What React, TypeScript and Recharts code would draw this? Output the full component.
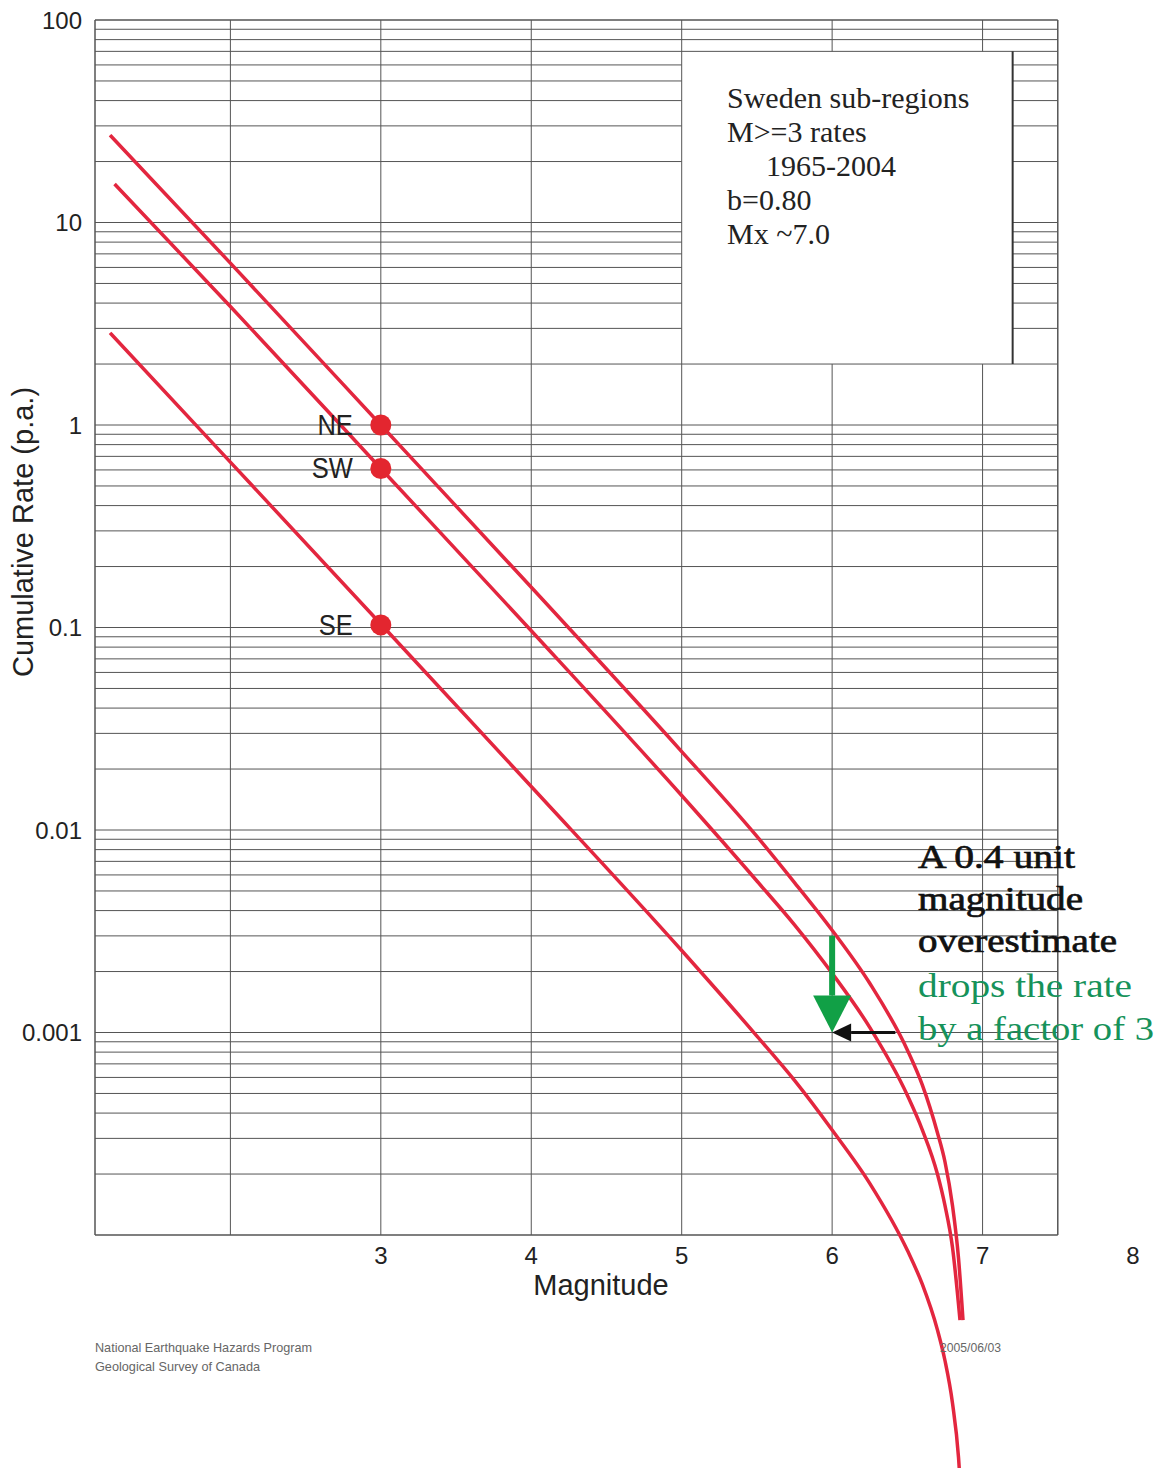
import React from 'react';
import { ComposedChart, Line, Scatter, XAxis, YAxis, ReferenceLine } from 'recharts';

// cumulative rate curves (magnitude, events per year)
const neMag = [1.2, 2, 3, 4, 5, 5.5, 5.75, 6, 6.25, 6.5, 6.6, 6.7, 6.75, 6.8, 6.84, 6.87];
const neRate = [27, 6.3, 1.0, 0.158, 0.0244, 0.0093, 0.0055, 0.0032, 0.00175, 0.00082, 0.00055, 0.00032, 0.00023, 0.00014, 0.000077, 0.000038];

const swMag = [1.23, 2, 3, 4, 5, 5.5, 5.75, 6, 6.25, 6.5, 6.6, 6.7, 6.75, 6.8, 6.85];
const swRate = [15.5, 3.85, 0.61, 0.0964, 0.0148, 0.0056, 0.0034, 0.00196, 0.00106, 0.00049, 0.00033, 0.0002, 0.00014, 0.000087, 0.000038];

const seMag = [1.2, 2, 3, 4, 5, 5.5, 5.75, 6, 6.25, 6.5, 6.6, 6.7, 6.75, 6.8, 6.84, 6.87];
const seRate = [2.85, 0.656, 0.104, 0.0164, 0.00254, 0.00096, 0.00058, 0.00033, 0.00018, 0.000084, 0.000057, 0.000034, 0.000024, 0.0000148, 0.000008, 0.0000033];

// M>=3 rate markers
const dotMag = [3, 3, 3];
const dotRate = [1.0, 0.61, 0.103];
const dotLabel = ['NE', 'SW', 'SE'];

// axes
const magTicks = [3, 4, 5, 6, 7, 8];
const rateTicks = [0.001, 0.01, 0.1, 1, 10, 100];
const magGrid = [2, 3, 4, 5, 6, 7];
const gridMantissas = [1, 2, 3, 4, 5, 6, 7, 8, 9];
const gridDecades = [-4, -3, -2, -1, 0, 1];
const frameMag = [1.1, 7.5];
const frameRate = [0.0001, 100];

// text box in the upper right
const boxMag = [5, 7.2];
const boxRate = [2, 70];
const boxLines = ['Sweden sub-regions', 'M>=3 rates', '1965-2004', 'b=0.80', 'Mx ~7.0'];

// annotation
const noteLines = ['A 0.4 unit', 'magnitude', 'overestimate', 'drops the rate', 'by a factor of 3'];
const greenArrow = [{ x: 6, y: 0.003 }, { x: 6, y: 0.001 }];
const blackArrow = [{ x: 6.42, y: 0.001 }, { x: 6, y: 0.001 }];

const RED = '#e3263f';
const GRID = '#555';
const GREEN = '#11a046';
const TEXT_GREEN = '#16925a';

const css = `
html, body { overflow: hidden; }
.recharts-line, .recharts-line * { clip-path: none !important; }
.recharts-surface { overflow: visible; }
`;

const arrowShape = (color: string, width: number, headW: number, headL: number) => (p: any) => {
  const { x1, y1, x2, y2 } = p;
  const dx = x2 - x1;
  const dy = y2 - y1;
  const len = Math.hypot(dx, dy) || 1;
  const ux = dx / len;
  const uy = dy / len;
  const bx = x2 - ux * headL;
  const by = y2 - uy * headL;
  const px = -uy * headW / 2;
  const py = ux * headW / 2;
  return (
    <g>
      <line x1={x1} y1={y1} x2={bx} y2={by} stroke={color} strokeWidth={width} />
      <polygon points={`${x2},${y2} ${bx + px},${by + py} ${bx - px},${by - py}`} fill={color} />
    </g>
  );
};

const renderDot = (p: any) => {
  const { cx, cy, payload } = p;
  return (
    <g>
      <circle cx={cx} cy={cy} r={10.5} fill="#e3262f" />
      <text
        transform={`translate(${cx - 28},${cy + 10}) scale(0.85,1)`}
        textAnchor="end"
        fontSize={30}
        fontFamily='"Liberation Sans", Arial, sans-serif'
        fill="#222"
      >
        {payload.label}
      </text>
    </g>
  );
};

export default function App() {
  const ne = neMag.map((m, i) => ({ m, rate: neRate[i] }));
  const sw = swMag.map((m, i) => ({ m, rate: swRate[i] }));
  const se = seMag.map((m, i) => ({ m, rate: seRate[i] }));
  const dots = dotMag.map((m, i) => ({ m, rate: dotRate[i], label: dotLabel[i] }));

  const gridRates = gridDecades
    .flatMap((e) => gridMantissas.map((k) => Number((k * Math.pow(10, e)).toPrecision(4))))
    .filter((v) => v > frameRate[0]);

  const hSegs: { v: number; a: number; b: number }[] = [];
  gridRates.forEach((v) => {
    if (v > boxRate[0] && v < boxRate[1]) {
      hSegs.push({ v, a: frameMag[0], b: boxMag[0] });
      hSegs.push({ v, a: boxMag[1], b: frameMag[1] });
    } else {
      hSegs.push({ v, a: frameMag[0], b: frameMag[1] });
    }
  });

  const vSegs: { m: number; a: number; b: number }[] = [];
  magGrid.forEach((m) => {
    if (m > boxMag[0] && m < boxMag[1]) {
      vSegs.push({ m, a: frameRate[0], b: boxRate[0] });
      vSegs.push({ m, a: boxRate[1], b: frameRate[1] });
    } else {
      vSegs.push({ m, a: frameRate[0], b: frameRate[1] });
    }
  });

  const serif = '"Liberation Serif", "Times New Roman", serif';
  const sans = '"Liberation Sans", Arial, sans-serif';

  return (
    <div style={{ position: 'relative', width: 1159, height: 1460, fontFamily: sans }}>
      <style>{css}</style>
      <ComposedChart width={1159} height={1460} margin={{ top: 12, right: 34, bottom: 173, left: 0 }}>
        <XAxis
          type="number"
          dataKey="m"
          domain={[1.1, 8]}
          ticks={magTicks}
          interval={0}
          allowDataOverflow
          axisLine={false}
          tickLine={false}
          tickMargin={6}
          height={60}
          tick={{ fontSize: 24, fill: '#222', fontFamily: sans }}
        />
        <YAxis
          type="number"
          dataKey="rate"
          scale="log"
          domain={[0.0001, 100]}
          ticks={rateTicks}
          interval={0}
          allowDataOverflow
          axisLine={false}
          tickLine={false}
          tickMargin={7}
          width={87}
          tick={{ fontSize: 24, fill: '#222', fontFamily: sans }}
          tickFormatter={(v: number) => String(v)}
        />

        {hSegs.map((s, i) => (
          <ReferenceLine
            key={`h${i}`}
            segment={[{ x: s.a, y: s.v }, { x: s.b, y: s.v }]}
            stroke={GRID}
            strokeWidth={1}
            ifOverflow="visible"
          />
        ))}
        {vSegs.map((s, i) => (
          <ReferenceLine
            key={`v${i}`}
            segment={[{ x: s.m, y: s.a }, { x: s.m, y: s.b }]}
            stroke={GRID}
            strokeWidth={1}
            ifOverflow="visible"
          />
        ))}
        {/* plot frame */}
        <ReferenceLine segment={[{ x: frameMag[0], y: frameRate[0] }, { x: frameMag[1], y: frameRate[0] }]} stroke={GRID} strokeWidth={1.5} ifOverflow="visible" />
        <ReferenceLine segment={[{ x: frameMag[0], y: frameRate[1] }, { x: frameMag[1], y: frameRate[1] }]} stroke={GRID} strokeWidth={1.5} ifOverflow="visible" />
        <ReferenceLine segment={[{ x: frameMag[0], y: frameRate[0] }, { x: frameMag[0], y: frameRate[1] }]} stroke={GRID} strokeWidth={1.5} ifOverflow="visible" />
        <ReferenceLine segment={[{ x: frameMag[1], y: frameRate[0] }, { x: frameMag[1], y: frameRate[1] }]} stroke={GRID} strokeWidth={1.5} ifOverflow="visible" />
        {/* text box right edge */}
        <ReferenceLine segment={[{ x: boxMag[1], y: boxRate[0] }, { x: boxMag[1], y: boxRate[1] }]} stroke="#333" strokeWidth={2} ifOverflow="visible" />

        <Line data={ne} dataKey="rate" type="monotone" stroke={RED} strokeWidth={3.5} dot={false} activeDot={false} isAnimationActive={false} />
        <Line data={sw} dataKey="rate" type="monotone" stroke={RED} strokeWidth={3.5} dot={false} activeDot={false} isAnimationActive={false} />
        <Line data={se} dataKey="rate" type="monotone" stroke={RED} strokeWidth={3.5} dot={false} activeDot={false} isAnimationActive={false} />
        <Scatter data={dots} dataKey="rate" shape={renderDot} isAnimationActive={false} />

        <ReferenceLine segment={greenArrow} ifOverflow="visible" shape={arrowShape(GREEN, 6, 38, 37)} />
        <ReferenceLine segment={blackArrow} ifOverflow="visible" shape={arrowShape('#111', 3, 18, 19)} />
      </ComposedChart>

      <svg
        width={1167}
        height={1468}
        style={{ position: 'absolute', left: -8, top: -8, pointerEvents: 'none', overflow: 'visible' }}
      >
        {/* axis titles */}
        <text x={601} y={1295} textAnchor="middle" fontSize={29} fontFamily={sans} fill="#222">Magnitude</text>
        <text transform="translate(33,532) rotate(-90)" textAnchor="middle" fontSize={29} fontFamily={sans} fill="#222">
          Cumulative Rate (p.a.)
        </text>

        {/* text box */}
        {boxLines.map((t, i) => (
          <text key={t} x={i === 2 ? 766 : 727} y={108 + i * 33.9} fontSize={30} fontFamily={serif} fill="#222">
            {t}
          </text>
        ))}

        {/* annotation */}
        {noteLines.map((t, i) => {
          const ys = [868, 910, 952, 997, 1040];
          const lens = [157, 165, 199, 214, 236];
          const black = i < 3;
          return (
            <text
              key={t}
              x={918}
              y={ys[i]}
              fontSize={33}
              fontFamily={serif}
              fill={black ? '#111' : TEXT_GREEN}
              stroke={black ? '#111' : 'none'}
              strokeWidth={black ? 0.7 : 0}
              textLength={lens[i]}
              lengthAdjust="spacingAndGlyphs"
            >
              {t}
            </text>
          );
        })}

        {/* credits */}
        <text x={95} y={1352} fontSize={13} fontFamily={sans} fill="#666" textLength={217} lengthAdjust="spacingAndGlyphs">
          National Earthquake Hazards Program
        </text>
        <text x={95} y={1371} fontSize={13} fontFamily={sans} fill="#666" textLength={165} lengthAdjust="spacingAndGlyphs">
          Geological Survey of Canada
        </text>
        <text x={940} y={1352} fontSize={13} fontFamily={sans} fill="#666" textLength={61} lengthAdjust="spacingAndGlyphs">
          2005/06/03
        </text>
      </svg>
    </div>
  );
}
